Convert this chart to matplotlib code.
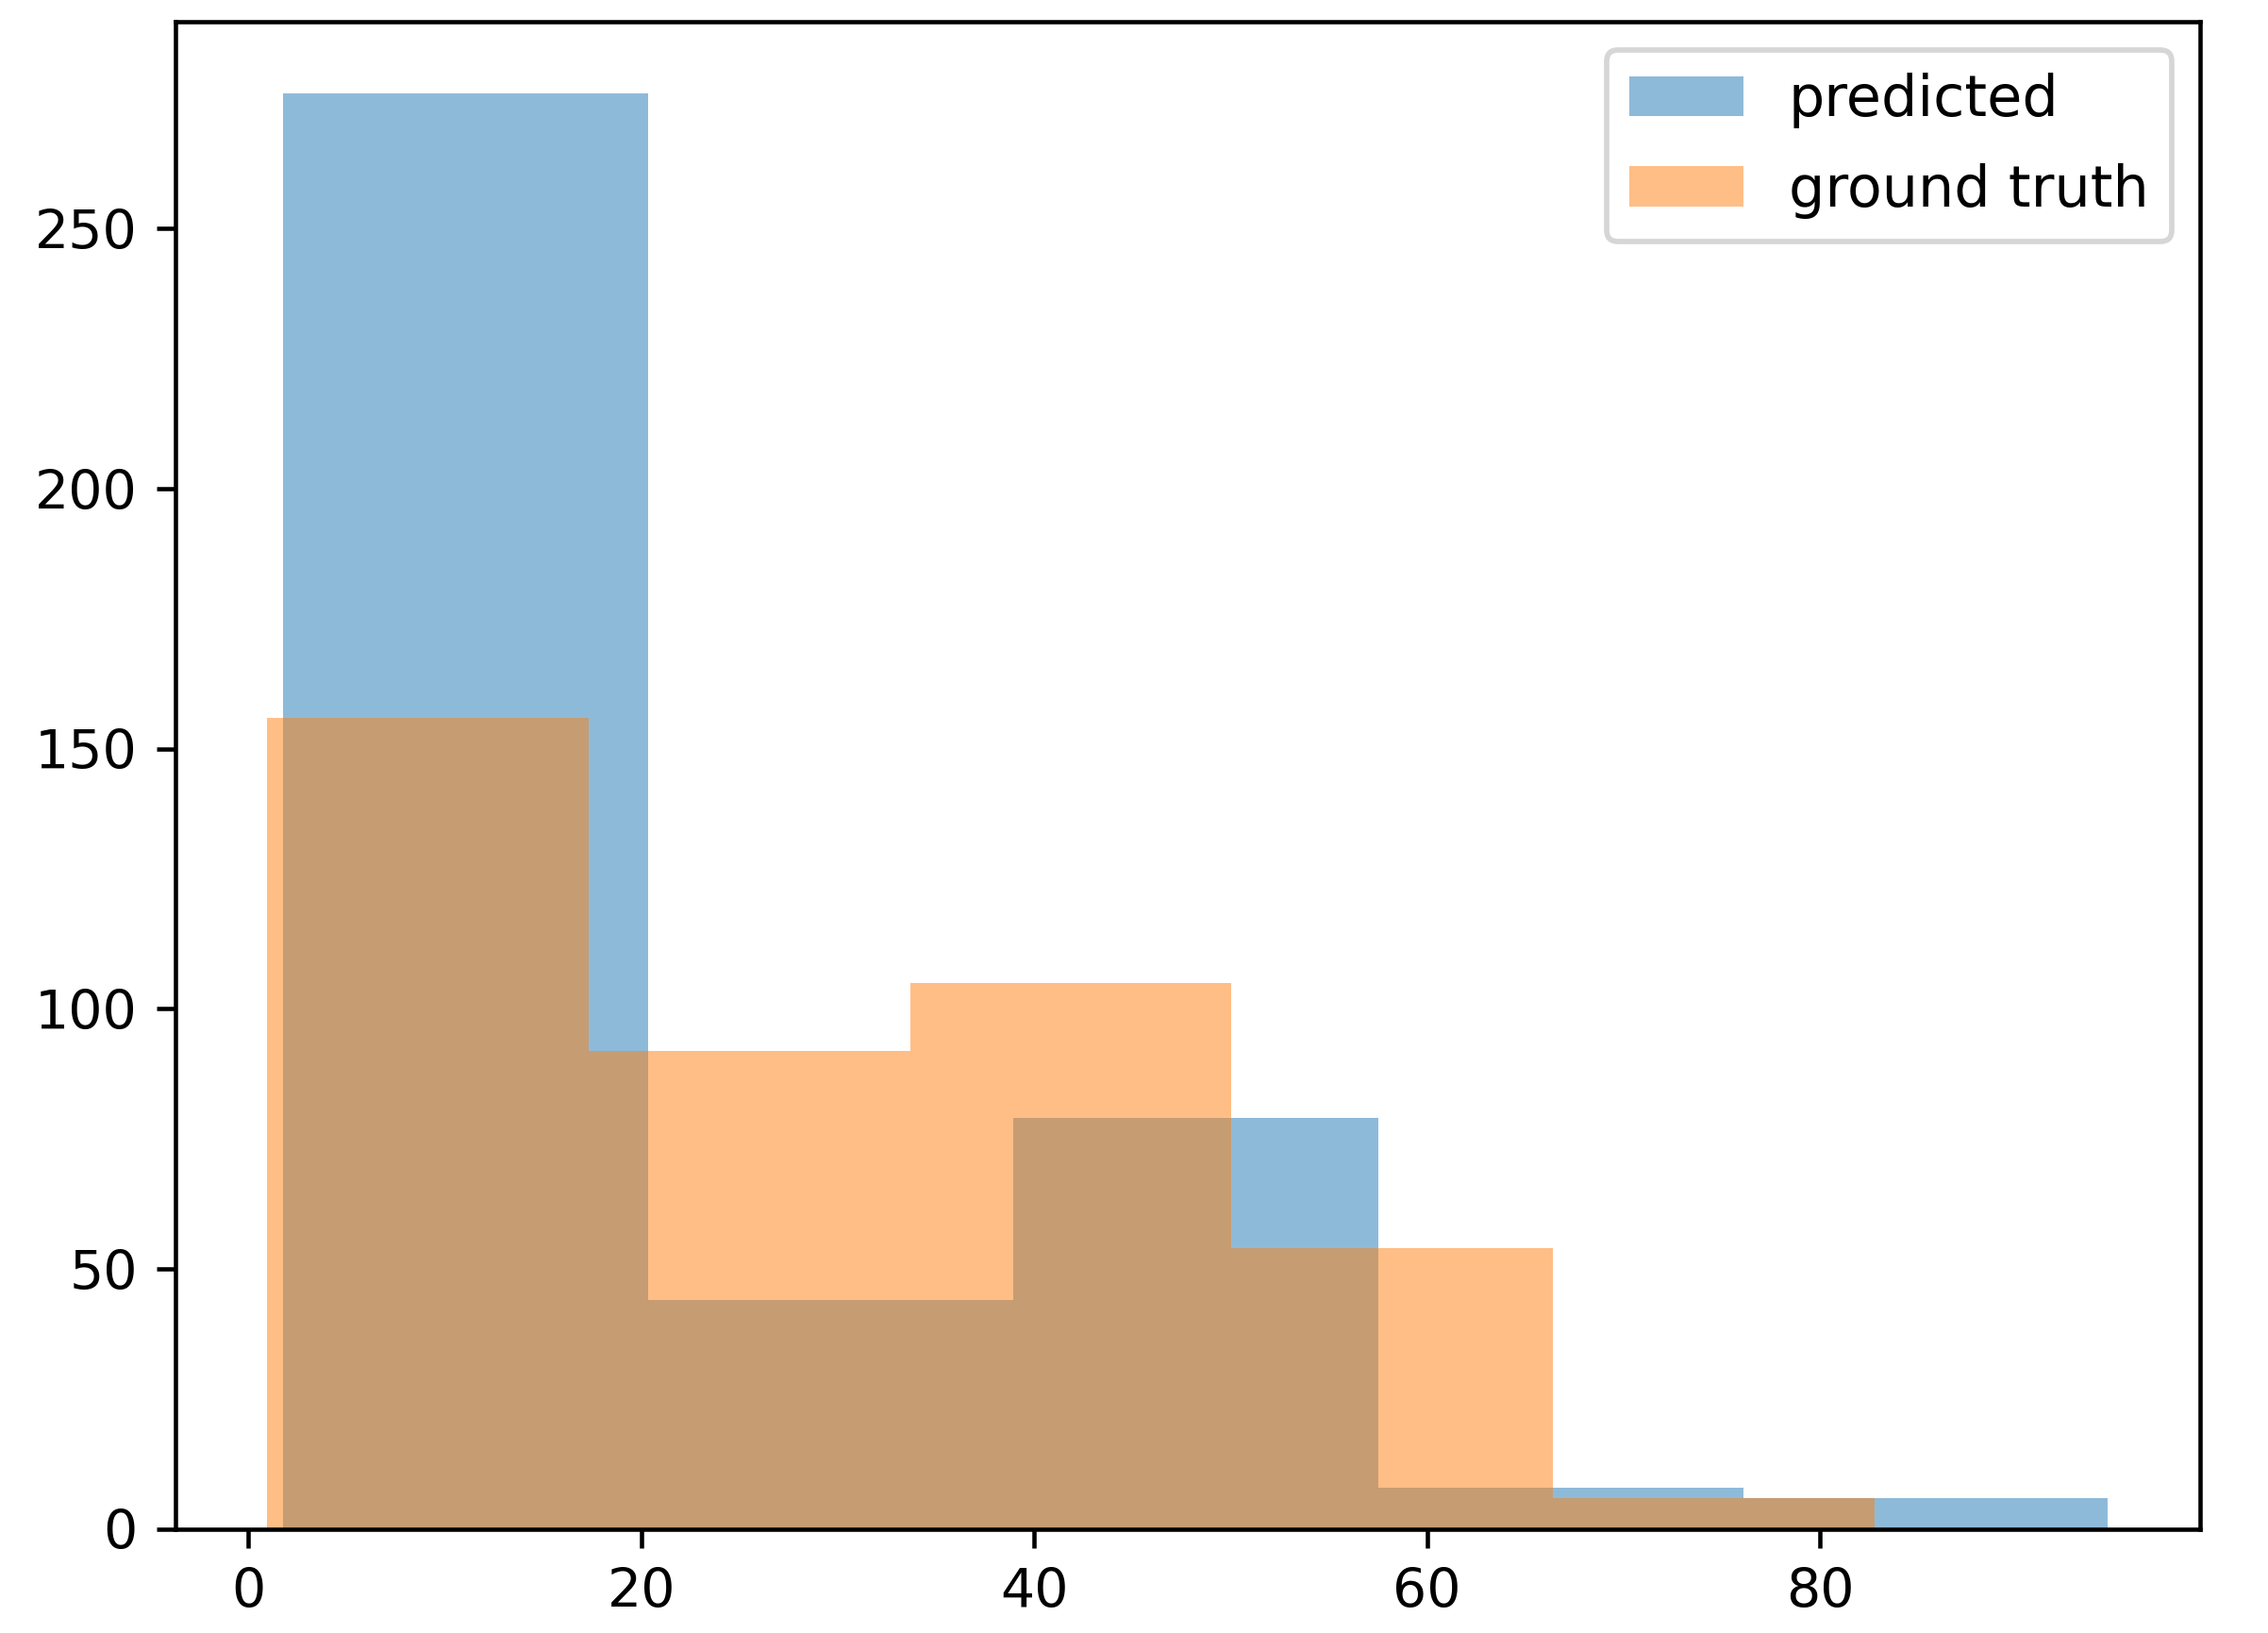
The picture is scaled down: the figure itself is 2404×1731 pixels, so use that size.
import numpy as np
import matplotlib
matplotlib.use("Agg")
import matplotlib.pyplot as plt

# Data
pred_range = (1.79, 94.66)
pred_counts = [276, 44, 79, 8, 6]
gt_range = (0.96, 82.78)
gt_counts = [156, 92, 105, 54, 6]
labels = ["predicted", "ground truth"]

DPI = 410
fig = plt.figure(figsize=(2404 / DPI, 1731 / DPI), dpi=DPI)
ax = fig.add_axes([0.0772, 0.0637, 0.970 - 0.0772, 0.9867 - 0.0637])

pred_edges = np.linspace(pred_range[0], pred_range[1], len(pred_counts) + 1)
gt_edges = np.linspace(gt_range[0], gt_range[1], len(gt_counts) + 1)

ax.hist(pred_edges[:-1], bins=pred_edges, weights=pred_counts, alpha=0.5, label=labels[0])
ax.hist(gt_edges[:-1], bins=gt_edges, weights=gt_counts, alpha=0.5, label=labels[1])

ax.set_xticks([0, 20, 40, 60, 80])
ax.set_yticks([0, 50, 100, 150, 200, 250])
ax.legend(loc="upper right", fontsize=10.6, labelspacing=0.6)

fig.savefig("out.png", dpi=DPI)
